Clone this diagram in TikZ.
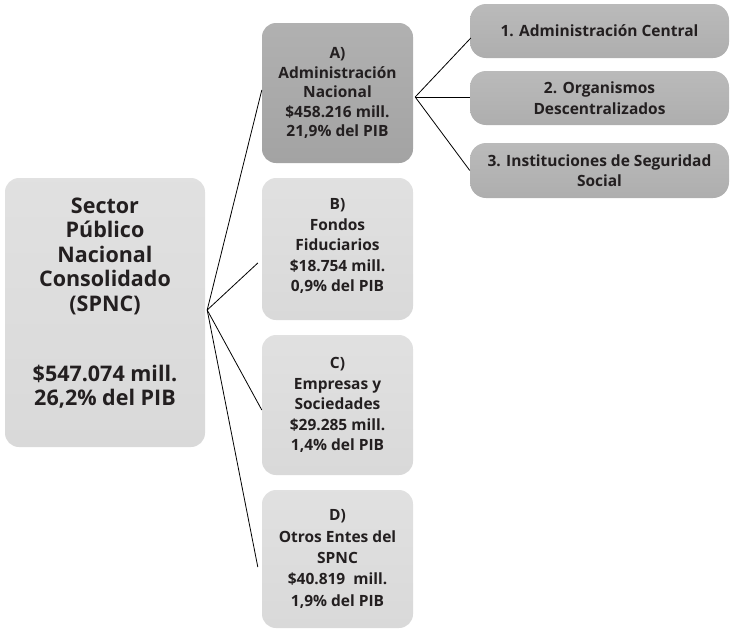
\documentclass[tikz,border=0pt]{standalone}
\usepackage{fontspec}
\setmainfont{Open Sans}
\usetikzlibrary{calc,shadows}
\definecolor{txt}{HTML}{231F20}
\definecolor{lightbox}{HTML}{D9D9D9}
\definecolor{darkbox}{HTML}{A3A3A3}
\definecolor{midbox}{HTML}{AEAEAE}
\tikzset{
  box/.style={rectangle, rounded corners=14pt, inner sep=1pt, align=center,
    text=txt, font=\bfseries, draw=none},
  lbox/.style={box, top color=lightbox!80!white, bottom color=lightbox},
  dbox/.style={box, top color=darkbox!85!white, bottom color=darkbox},
  rbox/.style={box, rounded corners=16pt, top color=midbox!85!white, bottom color=midbox},
  con/.style={draw=black, line width=0.8pt},
  small/.style={font=\bfseries\fontsize{15.5}{20.5}\selectfont},
  lbl/.style={align=center, text=txt, inner sep=0pt},
}
\begin{document}
\begin{tikzpicture}[x=1pt,y=-1pt]
\useasboundingbox (0,0) rectangle (732,630);
\node[lbox, minimum width=200pt, minimum height=269pt] (spnc) at (105,312.5) {};
\node[lbl, font=\bfseries\fontsize{21.5}{24.5}\selectfont] (spnctext) at (105,303)
  {Sector\\Público\\Nacional\\Consolidado\\(SPNC)\\[45.5pt]\$547.074 mill.\\26,2\% del PIB};
\node[dbox, small, font=\bfseries\fontsize{15.5}{19.5}\selectfont, minimum width=151pt, minimum height=140pt] (A) at (337.5,93)
  {A)\\Administración\\Nacional\\\$458.216 mill.\\21,9\% del PIB};
\node[lbox, minimum width=151pt, minimum height=142pt] (B) at (337.5,249) {};
\node[lbl, small] (Btext) at (337.5,246)
  {B)\\Fondos\\Fiduciarios\\\$18.754 mill.\\0,9\% del PIB};
\node[lbox, small, minimum width=151pt, minimum height=140pt] (C) at (337.5,405)
  {C)\\Empresas y\\Sociedades\\\$29.285 mill.\\1,4\% del PIB};
\node[lbox, small, font=\bfseries\fontsize{15.5}{21.3}\selectfont, minimum width=151pt, minimum height=138pt] (D) at (337.5,559)
  {D)\\Otros Entes del\\SPNC\\\$40.819~ mill.\\1,9\% del PIB};
\node[rbox, small, minimum width=259pt, minimum height=54pt] (R1) at (599.5,31)
  {1. Administración Central};
\node[rbox, small, minimum width=259pt, minimum height=54pt] (R2) at (599.5,98)
  {2. Organismos\\Descentralizados};
\node[rbox, small, minimum width=259pt, minimum height=55pt] (R3) at (599.5,170.5)
  {3. Instituciones de Seguridad\\Social};
\coordinate (s) at ($(spnc.east)+(2,-2.5)$);
\coordinate (a) at ($(A.east)+(2,4)$);
\draw[con] (s) -- ($(A.west)+(0,-3)$);
\draw[con] (s) -- ($(B.west)+(-4,14)$);
\draw[con] (s) -- ($(C.west)+(0,5)$);
\draw[con] (s) -- ($(D.west)+(-4,8)$);
\draw[con] (a) -- ($(R1.west)+(1,7)$);
\draw[con] (a) -- ($(R2.west)+(0,-1)$);
\draw[con] (a) -- ($(R3.west)+(0,0)$);
\end{tikzpicture}
\end{document}
